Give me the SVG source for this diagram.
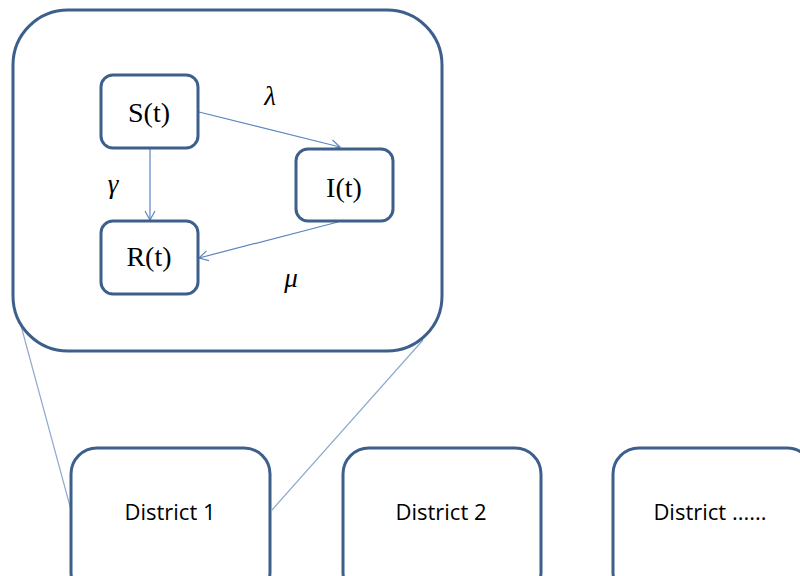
<svg xmlns="http://www.w3.org/2000/svg" width="800" height="576" viewBox="0 0 800 576">
<style>
.box{fill:#fff;stroke:#3d5f8c;stroke-width:3}
.conn{stroke:#5b86c0;stroke-width:1.2;fill:none}
.zoom{stroke:#8fa9cf;stroke-width:1.2;fill:none}
.st{font-family:"Liberation Serif",serif;font-size:28px;fill:#000;text-anchor:middle}
.gr{font-family:"Liberation Serif",serif;font-style:italic;font-size:27px;fill:#000;text-anchor:middle}
.dt{font-family:"Open Sans",sans-serif;font-size:22px;fill:#000;text-anchor:middle}
</style>
<defs>
<marker id="arr" markerWidth="12" markerHeight="12" refX="10" refY="6" orient="auto" markerUnits="userSpaceOnUse">
<path d="M1,1 L10,6 L1,11" fill="none" stroke="#5b86c0" stroke-width="1.2"/>
</marker>
</defs>
<rect width="800" height="576" fill="#fff"/>
<g id="connectors">
<line class="zoom" x1="20" y1="322" x2="71" y2="510"/>
<line class="zoom" x1="423" y1="340" x2="272" y2="510"/>
</g>
<g id="region">
<rect class="box" x="13" y="10" width="429" height="341" rx="55" ry="55"/>
</g>
<g id="inner-connectors">
<line class="conn" x1="199" y1="112" x2="340" y2="147" marker-end="url(#arr)"/>
<line class="conn" x1="150" y1="149" x2="150" y2="220" marker-end="url(#arr)"/>
<line class="conn" x1="338" y1="222" x2="199" y2="258" marker-end="url(#arr)"/>
</g>
<g id="S">
<rect class="box" x="101" y="75" width="97" height="73" rx="12"/>
<text class="st" x="149" y="122">S(t)</text>
</g>
<g id="I">
<rect class="box" x="296" y="149" width="97" height="72" rx="12"/>
<text class="st" x="344" y="197">I(t)</text>
</g>
<g id="R">
<rect class="box" x="101" y="221" width="97" height="73" rx="12"/>
<text class="st" x="149" y="266">R(t)</text>
</g>
<g id="labels">
<text class="gr" x="270" y="105">λ</text>
<text class="gr" x="113" y="193">γ</text>
<text class="gr" x="291" y="287">μ</text>
</g>
<g id="district1">
<rect class="box" x="71" y="448" width="199" height="150" rx="26"/>
<text class="dt" x="170" y="520">District 1</text>
</g>
<g id="district2">
<rect class="box" x="343" y="448" width="198" height="150" rx="26"/>
<text class="dt" x="441" y="520">District 2</text>
</g>
<g id="district3">
<rect class="box" x="613" y="448" width="200" height="150" rx="26"/>
<text class="dt" x="710" y="520">District ......</text>
</g>
</svg>
